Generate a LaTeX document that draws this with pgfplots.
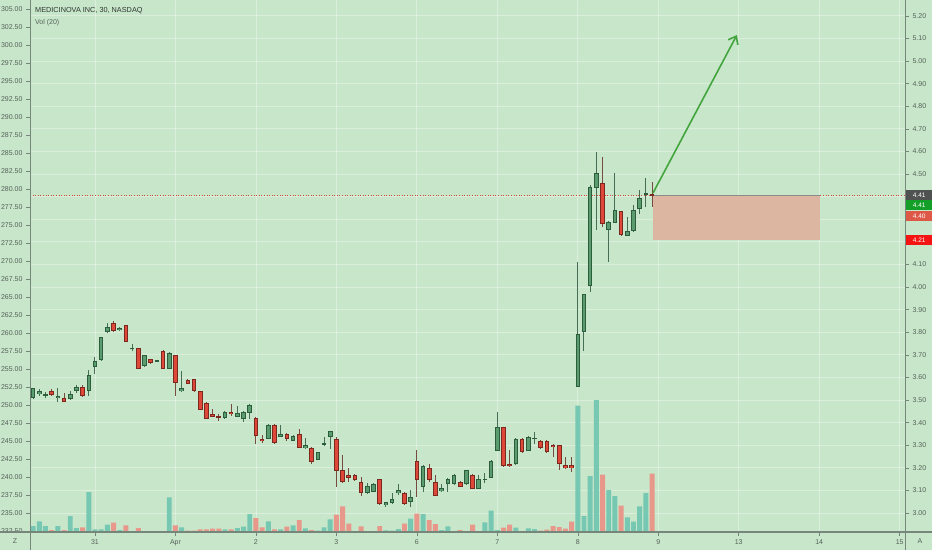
\documentclass[border=0pt]{standalone}
\usepackage{pgfplots}
\pgfplotsset{compat=1.18}
\usepackage{pgfplotstable}
\usepackage{fontspec}
\setmainfont{Liberation Sans}
\usetikzlibrary{arrows.meta}

\definecolor{bg}{RGB}{200,230,201}
\definecolor{upfill}{RGB}{90,156,110}
\definecolor{upline}{RGB}{44,94,62}
\definecolor{upwick}{RGB}{70,110,85}
\definecolor{dnfill}{RGB}{222,72,56}
\definecolor{dnline}{RGB}{125,40,30}
\definecolor{dnwick}{RGB}{120,75,65}
\definecolor{volup}{RGB}{118,200,178}
\definecolor{voldn}{RGB}{232,152,138}
\definecolor{axcol}{RGB}{118,134,122}
\definecolor{lblcol}{RGB}{85,98,90}
\definecolor{titlecol}{RGB}{45,55,50}
\definecolor{rectcol}{RGB}{220,182,160}
\definecolor{arrowcol}{RGB}{67,165,62}
\definecolor{pricecol}{RGB}{215,70,60}

% up (green) candles: bar index k (0 = Mar 31 open), open, high, low, close, volume (bar height)
\pgfplotstableread{
k o h l c v
-10 3.5075 3.5547 3.5045 3.5517 6
-9 3.5252 3.5473 3.5178 3.5384 10.7
-8 3.5193 3.5355 3.5090 3.5281 6
-6 3.5075 3.5517 3.4897 3.5193 6
-4 3.5060 3.5414 3.4986 3.5281 16
-3 3.5384 3.5665 3.5326 3.5591 4
-1 3.5384 3.6328 3.5193 3.6092 40
0 3.6476 3.6889 3.6166 3.6727 2.7
1 3.6771 3.7803 3.6741 3.7774 2.7
2 3.7995 3.8393 3.7951 3.8231 7.3
4 3.8083 3.8246 3.8054 3.8201 2
6 3.7287 3.7479 3.7184 3.7302 0.5
8 3.6491 3.6992 3.6461 3.6977 1
10 3.6720 3.6741 3.6712 3.6734 0.5
12 3.6373 3.7125 3.6358 3.7095 34.7
14 3.5384 3.6299 3.5355 3.5532 4.7
21 3.4190 3.4499 3.4160 3.4455 2.7
23 3.4264 3.4721 3.4234 3.4411 4
24 3.4175 3.4529 3.4042 3.4470 5.3
25 3.4411 3.4809 3.4160 3.4780 18
28 3.3290 3.3924 3.3260 3.3895 10.7
30 3.3378 3.3909 3.3349 3.3497 2.7
32 3.3201 3.3467 3.3172 3.3408 6.7
34 3.2877 3.3305 3.2847 3.2995 3.7
36 3.2361 3.2700 3.2330 3.2685 1.3
37 3.2997 3.3377 3.2966 3.3085 4.7
38 3.3377 3.3642 3.2850 3.3616 12.7
44 3.0872 3.1342 3.0841 3.1196 1
45 3.0943 3.1315 3.0917 3.1284 1
47 3.0354 3.0500 3.0279 3.0474 1.7
48 3.0429 3.0872 3.0398 3.0606 1.3
49 3.0872 3.1284 3.0810 3.1005 3
51 3.0487 3.1018 3.0279 3.0695 13.3
53 3.1165 3.2111 3.0943 3.2080 18
56 3.0961 3.1284 3.0930 3.1107 2
57 3.1284 3.1536 3.0943 3.1505 5.7
58 3.1284 3.1714 3.1253 3.1683 1
60 3.1284 3.1917 3.1253 3.1890 1
62 3.1076 3.1683 3.1050 3.1492 1
63 3.1480 3.1784 3.1315 3.1500 9.7
64 3.1563 3.2333 3.1536 3.2302 21.3
65 3.2757 3.4457 3.2731 3.3793 2
68 3.2169 3.3320 3.2137 3.3289 4.3
70 3.2757 3.3408 3.2731 3.3377 3.7
71 3.3297 3.3598 3.3041 3.3317 3
78 3.5576 4.1120 3.5560 3.7908 126.5
79 3.8023 3.9710 3.7182 3.9692 16
80 4.0058 4.4514 3.9793 4.4412 56
81 4.4368 4.5988 4.2523 4.5032 132
83 4.2523 4.2900 4.1094 4.2890 42
84 4.2846 4.5032 4.2819 4.3408 36
86 4.2271 4.3085 4.2257 4.2479 14.7
87 4.2479 4.3629 4.2448 4.3408 10.3
88 4.3439 4.4293 4.3231 4.3926 25.7
89 4.4103 4.4837 4.3527 4.4173 39
}\up

% down (red) candles
\pgfplotstableread{
k o h l c v
-7 3.5399 3.5473 3.5178 3.5237 2
-5 3.5075 3.5326 3.4912 3.4927 2
-2 3.5591 3.5665 3.5149 3.5178 4.7
3 3.8393 3.8496 3.7995 3.8069 9.3
5 3.8305 3.8334 3.7552 3.7582 6.7
7 3.7287 3.7302 3.6358 3.6373 4
9 3.6800 3.6830 3.6609 3.6638 1
11 3.7184 3.7213 3.6358 3.6373 1
13 3.6977 3.7007 3.5178 3.5768 6.7
15 3.5886 3.5915 3.5709 3.5724 1.3
16 3.5915 3.5945 3.5355 3.5384 1.3
17 3.5384 3.5414 3.4558 3.4573 2.7
18 3.4883 3.4912 3.4160 3.4175 2.7
19 3.4396 3.4588 3.4234 3.4264 3.3
20 3.4293 3.4381 3.4086 3.4234 3.3
22 3.4484 3.4809 3.4293 3.4381 2.7
26 3.4205 3.4264 3.3069 3.3393 14
27 3.3290 3.3467 3.3113 3.3187 4.7
29 3.3895 3.3924 3.3054 3.3084 2.7
31 3.3482 3.3555 3.3201 3.3290 5.3
33 3.3497 3.3703 3.2862 3.2892 12
35 3.2877 3.2906 3.2169 3.2257 2
39 3.3275 3.3377 3.1165 3.1872 17.3
40 3.1903 3.2567 3.1315 3.1359 25.7
41 3.1696 3.1978 3.1385 3.1563 8.3
42 3.1696 3.1726 3.1431 3.1461 0.5
43 3.1385 3.1580 3.0753 3.0872 5.7
46 3.1492 3.1518 3.0354 3.0385 6
50 3.0885 3.0943 3.0354 3.0385 8.3
52 3.2302 3.2788 3.0695 3.1474 18.3
54 3.1978 3.2155 3.1385 3.1461 12
55 3.1372 3.1683 3.0740 3.0766 8
59 3.1385 3.1416 3.1137 3.1165 2
61 3.1683 3.1714 3.1050 3.1076 7.3
66 3.3793 3.3819 3.2049 3.2080 4.3
67 3.2169 3.2788 3.2049 3.2080 7.3
69 3.3289 3.3320 3.2669 3.2700 1
72 3.3200 3.3230 3.2846 3.2877 1.3
73 3.3200 3.3230 3.2669 3.2700 2.3
74 3.3023 3.3054 3.2465 3.2908 6
75 3.2997 3.3023 3.1903 3.2169 5
76 3.2111 3.2492 3.1947 3.1978 3.3
77 3.2111 3.2492 3.1828 3.1978 10.3
82 4.4616 4.5740 4.2669 4.2775 57.5
85 4.3364 4.3380 4.2271 4.2301 26.5
90 4.4103 4.4634 4.3527 4.4027 58.3
}\dn

\tikzset{lbl/.style={font=\fontsize{7}{8}\selectfont, text=lblcol}}
\pgfplotsset{
  base/.style={
    scale only axis, width=875pt, height=532pt,
    at={(30pt,18pt)}, anchor=south west,
    xmin=-10.5, xmax=130.86,
  },
  ebar/.style 2 args={forget plot, draw=none, mark=none,
    error bars/.cd, y dir=both, y explicit, error mark=none,
    error bar style={line width=#1, draw=#2}},
}

\begin{document}
\begin{tikzpicture}[x=1pt,y=1pt]
\useasboundingbox (0,0) rectangle (932,550);
\fill[bg] (0,0) rectangle (932,550);

% grid
\begin{axis}[base, ymin=2.916, ymax=5.270,
  ytick distance=0.1,
  xtick={0,13,26,39,52,65,78,91,104,117,130},
  xticklabels={}, yticklabels={},
  grid=major, major grid style={draw=white, opacity=0.35, line width=0.8pt},
  axis line style={draw=none}, tick style={draw=none}]
\addplot[draw=none] coordinates {(0,3)};
\end{axis}

% volume
\begin{axis}[base, ymin=0, ymax=532, hide axis]
\addplot[ybar, bar width=0.8, bar shift=0pt, fill=volup, draw=none] table[x=k, y=v] {\up};
\addplot[ybar, bar width=0.8, bar shift=0pt, fill=voldn, draw=none] table[x=k, y=v] {\dn};
\end{axis}

% price
\begin{axis}[base, ymin=2.916, ymax=5.270, clip=false,
  axis line style={draw=none},
  xtick={0,13,26,39,52,65,78,91,104,117,130},
  xticklabels={31,Apr,2,3,6,7,8,9,13,14,15},
  xtick pos=bottom,
  ytick={3.0,3.1,3.2,3.3,3.4,3.5,3.6,3.7,3.8,3.9,4.0,4.1,4.5,4.6,4.7,4.8,4.9,5.0,5.1,5.2},
  ytick pos=right, yticklabel pos=right,
  tick align=outside, major tick length=4pt,
  tick style={draw=axcol, line width=0.6pt},
  x tick label style={lbl},
  y tick label style={lbl},
  /pgf/number format/fixed,
  /pgf/number format/fixed zerofill,
  /pgf/number format/precision=2,
  /pgf/number format/assume math mode=true]
\draw[pricecol, dotted, line width=0.6pt] (axis cs:-10.5,4.407) -- (axis cs:130.86,4.407);
\fill[rectcol] (axis cs:90.15,4.407) rectangle (axis cs:117.1,4.208);
\draw[black!45, line width=0.5pt] (axis cs:90.15,4.407) -- (axis cs:117.1,4.407);

\addplot[ebar={1pt}{upwick}] table[x=k, y expr={(\thisrow{h}+\thisrow{l})/2}, y error expr={(\thisrow{h}-\thisrow{l})/2}] {\up};
\addplot[ebar={1pt}{dnwick}] table[x=k, y expr={(\thisrow{h}+\thisrow{l})/2}, y error expr={(\thisrow{h}-\thisrow{l})/2}] {\dn};
\addplot[ebar={4.6pt}{upline}] table[x=k, y expr={(\thisrow{o}+\thisrow{c})/2}, y error expr={max(abs(\thisrow{o}-\thisrow{c})/2,0.0024)}] {\up};
\addplot[ebar={4.6pt}{dnline}] table[x=k, y expr={(\thisrow{o}+\thisrow{c})/2}, y error expr={max(abs(\thisrow{o}-\thisrow{c})/2,0.0024)}] {\dn};
\addplot[ebar={2.6pt}{upfill}] table[x=k, y expr={(\thisrow{o}+\thisrow{c})/2}, y error expr={max(abs(\thisrow{o}-\thisrow{c})/2-0.0044,0)}] {\up};
\addplot[ebar={2.6pt}{dnfill}] table[x=k, y expr={(\thisrow{o}+\thisrow{c})/2}, y error expr={max(abs(\thisrow{o}-\thisrow{c})/2-0.0044,0)}] {\dn};

\draw[arrowcol, line width=1.6pt, -{Straight Barb[length=7pt,width=11pt]}] (axis cs:90.15,4.416) -- (axis cs:103.7,5.115);
\end{axis}

% left price scale
\begin{axis}[base, ymin=232.36, ymax=306.32,
  axis line style={draw=none},
  xtick=\empty,
  ytick distance=2.5, ytick pos=left, yticklabel pos=left,
  tick align=outside, major tick length=4pt,
  tick style={draw=axcol, line width=0.6pt},
  y tick label style={lbl},
  /pgf/number format/fixed,
  /pgf/number format/fixed zerofill,
  /pgf/number format/precision=2,
  /pgf/number format/assume math mode=true]
\addplot[draw=none] coordinates {(0,250)};
\end{axis}

% frame lines
\draw[axcol, line width=1.2pt] (0,18) -- (932,18);
\draw[axcol, line width=1pt] (30,0) -- (30,550);
\draw[axcol, line width=1pt] (905,0) -- (905,550);

% price badges
\tikzset{badge/.style={anchor=west, inner sep=0pt, minimum width=26pt, minimum height=9.6pt, text=white, font=\fontsize{6.5}{7}\selectfont}}
\node[badge, fill={rgb,255:red,78;green,82;blue,80}] at (906,354.7) {4.41};
\node[badge, fill={rgb,255:red,20;green,160;blue,40}] at (906,344.7) {4.41};
\node[badge, fill={rgb,255:red,222;green,88;blue,72}] at (906,334.2) {4.40};
\node[badge, fill={rgb,255:red,245;green,20;blue,20}] at (906,310) {4.21};

% titles and corner labels
\node[anchor=west, inner sep=0pt, font=\fontsize{7.3}{8}\selectfont, text=titlecol] at (35,539) {MEDICINOVA INC, 30, NASDAQ};
\node[anchor=west, inner sep=0pt, font=\fontsize{7}{8}\selectfont, text=lblcol] at (35,527) {Vol (20)};
\node[lbl, inner sep=0pt] at (15,9) {Z};
\node[lbl, inner sep=0pt] at (920,9) {A};
\end{tikzpicture}
\end{document}
